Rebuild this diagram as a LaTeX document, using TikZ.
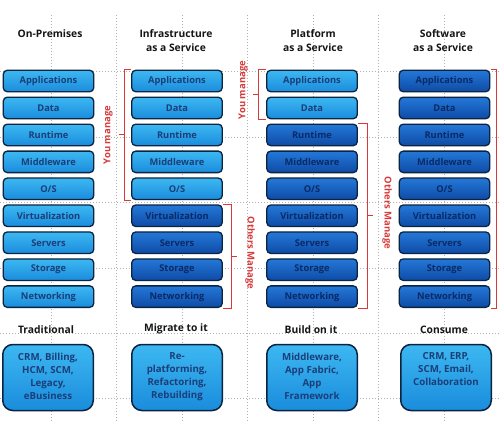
\documentclass[tikz,border=0pt]{standalone}
\usepackage{fontspec}
\setmainfont{Open Sans}
\usetikzlibrary{calc}
\definecolor{lbT}{HTML}{3DB8F2}
\definecolor{lbB}{HTML}{1A8CDC}
\definecolor{dbT}{HTML}{2478D8}
\definecolor{dbB}{HTML}{0E4BA6}
\definecolor{edgec}{HTML}{0B2440}
\definecolor{ltxt}{HTML}{1B3E78}
\definecolor{dtxt}{HTML}{0A2A66}
\definecolor{rd}{HTML}{D83A3A}
\definecolor{grd}{HTML}{B0B0B0}
\definecolor{hdr}{HTML}{151515}
\begin{document}
\begin{tikzpicture}[x=1pt,y=-1pt,
  layer/.style={rounded corners=4pt, draw=edgec, line width=1.3pt,
    minimum width=90.5pt, minimum height=21.5pt, inner sep=0pt,
    font=\bfseries\fontsize{9.3}{10}\selectfont},
  light/.style={layer, top color=lbT, bottom color=lbB, text=ltxt},
  dark/.style={layer, top color=dbT, bottom color=dbB, text=dtxt},
  bigbox/.style={rounded corners=10pt, draw=edgec, line width=1.5pt,
    minimum width=90.5pt, minimum height=66pt, inner sep=0pt,
    top color=lbT, bottom color=lbB},
  bigtext/.style={anchor=north, inner sep=0pt, align=center, text=ltxt,
    font=\bfseries\fontsize{9.7}{13}\selectfont},
  header/.style={align=center, inner sep=0pt, text=hdr,
    font=\bfseries\fontsize{10.3}{14}\selectfont},
  gridline/.style={grd, line width=0.7pt, dash pattern=on 0.8pt off 2.2pt},
  brack/.style={rd, line width=0.9pt},
  mgr/.style={inner sep=0pt, text=rd, font=\bfseries\fontsize{9.5}{10}\selectfont}
]
\useasboundingbox (0,0) rectangle (500,441);
\fill[white] (0,0) rectangle (500,441);
% dotted grid
\foreach \gx in {51,116.5,182,247.5,313,378.5,444}
  \draw[gridline] (\gx,15) -- (\gx,422);
\foreach \gy in {71,137,202,268,333,398}
  \draw[gridline] (0,\gy) -- (500,\gy);
% headers
\node[header] (h1) at (50,34) {On-Premises};
\node[header] (h2) at (176,41) {Infrastructure\\as a Service};
\node[header] (h3) at (313,41) {Platform\\as a Service};
\node[header] (h4) at (443,41) {Software\\as a Service};
% column 1 (all light)
\foreach \i/\t in {0/Applications,1/Data,2/Runtime,3/Middleware,4/{O/S},5/Virtualization,6/Servers,7/Storage,8/Networking}
  \node[light] (a\i) at (48.5,81+26.95*\i) {\t};
% column 2
\foreach \i/\t in {0/Applications,1/Data,2/Runtime,3/Middleware,4/{O/S}}
  \node[light] (b\i) at (177,81+26.95*\i) {\t};
\foreach \i/\t in {5/Virtualization,6/Servers,7/Storage,8/Networking}
  \node[dark] (b\i) at (177,81+26.95*\i) {\t};
% column 3
\foreach \i/\t in {0/Applications,1/Data}
  \node[light] (c\i) at (312,81+26.95*\i) {\t};
\foreach \i/\t in {2/Runtime,3/Middleware,4/{O/S},5/Virtualization,6/Servers,7/Storage,8/Networking}
  \node[dark] (c\i) at (312,81+26.95*\i) {\t};
% column 4 (all dark)
\foreach \i/\t in {0/Applications,1/Data,2/Runtime,3/Middleware,4/{O/S},5/Virtualization,6/Servers,7/Storage,8/Networking}
  \node[dark] (d\i) at (444.5,81+26.95*\i) {\t};
% bottom labels
\node[header] (f1) at (46,330) {Traditional};
\node[header] (f2) at (176,329) {Migrate to it};
\node[header] (f3) at (311,330) {Build on it};
\node[header] (f4) at (444,330) {Consume};
% bottom boxes
\node[bigbox] (g1) at (48,377.5) {};
\node[bigbox] (g2) at (177,377.5) {};
\node[bigbox] (g3) at (312,377.5) {};
\node[bigbox] (g4) at (446,377.5) {};
\node[bigtext] (t1) at ($(g1.north)+(0,9)$) {CRM, Billing,\\HCM, SCM,\\Legacy,\\eBusiness};
\node[bigtext] (t2) at ($(g2.north)+(0,9)$) {Re-\\platforming,\\Refactoring,\\Rebuilding};
\node[bigtext] (t3) at ($(g3.north)+(0,9)$) {Middleware,\\App Fabric,\\App\\Framework};
\node[bigtext] (t4) at ($(g4.north)+(0,9)$) {CRM, ERP,\\SCM, Email,\\Collaboration};
% brackets: IaaS you manage
\draw[brack] ($(b0.north west)+(-0.5,0)$) -- ++(-6,0) |- ($(b4.south west)+(-0.5,0)$);
\coordinate (m1) at ($(b0.north west)!0.5!(b4.south west)+(-6.5,0)$);
\draw[brack] (m1) -- ++(-6,0);
\node[mgr, rotate=90] (y1) at (108,135) {You manage};
% IaaS others manage
\draw[brack] ($(b5.north east)+(0.5,0)$) -- ++(8,0) |- ($(b8.south east)+(0.5,0)$);
\coordinate (m2) at ($(b5.north east)!0.5!(b8.south east)+(8.5,0)$);
\draw[brack] (m2) -- ++(6,0);
\node[mgr, rotate=-90] (o1) at (250,253) {Others Manage};
% PaaS you manage
\draw[brack] ($(c0.north west)+(-0.5,0)$) -- ++(-7,0) |- ($(c1.south west)+(-0.5,0)$);
\coordinate (m3) at ($(c0.north west)!0.5!(c1.south west)+(-7.5,0)$);
\draw[brack] (m3) -- ++(-6,0);
\node[mgr, rotate=90] (y2) at (243,90) {You manage};
% PaaS others manage
\draw[brack] ($(c2.north east)+(0.5,0)$) -- ++(9,0) |- ($(c8.south east)+(0.5,0)$);
\coordinate (m4) at ($(c2.north east)!0.5!(c8.south east)+(9.5,0)$);
\draw[brack] (m4) -- ++(6,0);
\node[mgr, rotate=-90] (o2) at (387,213) {Others Manage};
% SaaS others manage
\draw[brack] ($(d0.north east)+(0.5,0)$) -- ++(6,0) |- ($(d8.south east)+(0.5,0)$);
\end{tikzpicture}
\end{document}
